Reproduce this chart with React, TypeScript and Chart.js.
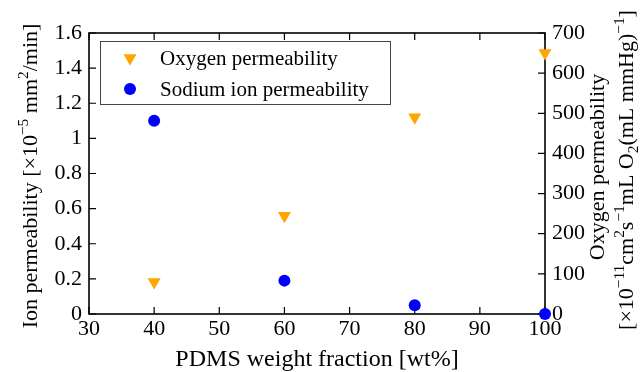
import React, { useEffect, useRef } from "react";
import { Chart, registerables } from "chart.js";

Chart.register(...registerables);

// ---- data ----
const wtFraction = [40, 60, 80, 100];
const oxygenPermeability = [80, 245, 490, 650];
const sodiumPermeability = [1.1, 0.19, 0.05, 0];

const xTicks = [30, 40, 50, 60, 70, 80, 90, 100];
const ionTicks = [0, 0.2, 0.4, 0.6, 0.8, 1, 1.2, 1.4, 1.6];
const oxyTicks = [0, 100, 200, 300, 400, 500, 600, 700];

const seriesLabels = ["Oxygen permeability", "Sodium ion permeability"];
const xTitle = "PDMS weight fraction [wt%]";
const leftTitle: [string, string][] = [
  ["Ion permeability [×10", ""],
  ["−5", "sup"],
  [" mm", ""],
  ["2", "sup"],
  ["/min]", ""],
];
const rightTitle1 = "Oxygen permeability";
const rightTitle2: [string, string][] = [
  ["[×10", ""],
  ["−11", "sup"],
  ["cm", ""],
  ["2", "sup"],
  ["s", ""],
  ["−1", "sup"],
  ["mL O", ""],
  ["2", "sub"],
  ["(mL mmHg)", ""],
  ["−1", "sup"],
  ["]", ""],
];

const FONT = '"Liberation Serif", "Times New Roman", serif';
const ORANGE = "#FFA500";
const BLUE = "#0000FF";

function drawRich(ctx: CanvasRenderingContext2D, segs: [string, string][], cx: number, cy: number, size: number, rot: number) {
  ctx.save();
  ctx.translate(cx, cy);
  ctx.rotate(rot);
  const small = size * 0.7;
  let total = 0;
  const widths = segs.map(([t, k]) => {
    ctx.font = `${k ? small : size}px ${FONT}`;
    const w = ctx.measureText(t).width;
    total += w;
    return w;
  });
  let x = -total / 2;
  ctx.textBaseline = "alphabetic";
  ctx.textAlign = "left";
  ctx.fillStyle = "#000";
  segs.forEach(([t, k], i) => {
    ctx.font = `${k ? small : size}px ${FONT}`;
    const dy = k === "sup" ? -size * 0.4 : k === "sub" ? size * 0.22 : 0;
    ctx.fillText(t, x, size * 0.33 + dy);
    x += widths[i];
  });
  ctx.restore();
}

function drawMarker(ctx: CanvasRenderingContext2D, style: string, x: number, y: number, r: number, color: string) {
  ctx.save();
  ctx.fillStyle = color;
  ctx.beginPath();
  if (style === "triangle") {
    // downward triangle (rotation 180)
    let rad = Math.PI;
    ctx.moveTo(x + Math.sin(rad) * r, y - Math.cos(rad) * r);
    rad += (2 * Math.PI) / 3;
    ctx.lineTo(x + Math.sin(rad) * r, y - Math.cos(rad) * r);
    rad += (2 * Math.PI) / 3;
    ctx.lineTo(x + Math.sin(rad) * r, y - Math.cos(rad) * r);
    ctx.closePath();
  } else {
    ctx.arc(x, y, r, 0, Math.PI * 2);
  }
  ctx.fill();
  ctx.restore();
}

const framePlugin = {
  id: "frameTicks",
  beforeDatasetsDraw(chart: any) {
    const { ctx, chartArea: a, scales } = chart;
    const L = 7;
    ctx.save();
    ctx.strokeStyle = "#000";
    ctx.lineWidth = 1.2;
    ctx.beginPath();
    xTicks.forEach((v) => {
      const px = scales.x.getPixelForValue(v);
      ctx.moveTo(px, a.bottom);
      ctx.lineTo(px, a.bottom - L);
      ctx.moveTo(px, a.top);
      ctx.lineTo(px, a.top + L);
    });
    ionTicks.forEach((v) => {
      const py = scales.y.getPixelForValue(v);
      ctx.moveTo(a.left, py);
      ctx.lineTo(a.left + L, py);
    });
    oxyTicks.forEach((v) => {
      const py = scales.y2.getPixelForValue(v);
      ctx.moveTo(a.right, py);
      ctx.lineTo(a.right - L, py);
    });
    ctx.stroke();
    ctx.lineWidth = 1.6;
    ctx.strokeRect(a.left, a.top, a.right - a.left, a.bottom - a.top);
    ctx.restore();
  },
  afterDatasetsDraw(chart: any) {
    const { ctx, chartArea: a } = chart;
    // axis titles
    ctx.save();
    ctx.font = `24px ${FONT}`;
    ctx.fillStyle = "#000";
    ctx.textAlign = "center";
    ctx.textBaseline = "alphabetic";
    ctx.fillText(xTitle, (a.left + a.right) / 2, 366);
    ctx.restore();
    drawRich(ctx, leftTitle, 30, 176, 22, -Math.PI / 2);
    drawRich(ctx, [[rightTitle1, ""]], 597, 167, 22, -Math.PI / 2);
    drawRich(ctx, rightTitle2, 626, 170, 22, -Math.PI / 2);

    // legend
    ctx.save();
    ctx.fillStyle = "#fff";
    ctx.fillRect(100, 41, 290, 63);
    ctx.strokeStyle = "#444";
    ctx.lineWidth = 1;
    ctx.strokeRect(100.5, 41.5, 290, 63);
    ctx.font = `21px ${FONT}`;
    ctx.fillStyle = "#000";
    ctx.textAlign = "left";
    ctx.textBaseline = "alphabetic";
    chart.data.datasets.forEach((ds: any, i: number) => {
      const y = 58 + i * 31;
      drawMarker(ctx, ds.pointStyle, 130, y, ds.pointRadius, ds.backgroundColor);
      ctx.fillStyle = "#000";
      ctx.fillText(ds.label, 160, y + 6.5);
    });
    ctx.restore();
  },
};

export default function App() {
  const ref = useRef<HTMLCanvasElement>(null);
  useEffect(() => {
    if (!ref.current) return;
    const tickFont = { family: FONT, size: 22 };
    const chart = new Chart(ref.current, {
      type: "scatter",
      data: {
        datasets: [
          {
            label: seriesLabels[0],
            data: wtFraction.map((x, i) => ({ x, y: oxygenPermeability[i] })),
            yAxisID: "y2",
            backgroundColor: ORANGE,
            borderWidth: 0,
            pointStyle: "triangle",
            rotation: 180,
            pointRadius: 7.5,
            clip: false,
          } as any,
          {
            label: seriesLabels[1],
            data: wtFraction.map((x, i) => ({ x, y: sodiumPermeability[i] })),
            yAxisID: "y",
            backgroundColor: BLUE,
            borderWidth: 0,
            pointStyle: "circle",
            pointRadius: 6,
            clip: false,
          } as any,
        ],
      },
      options: {
        responsive: false,
        animation: false,
        devicePixelRatio: 1,
        layout: { padding: { top: 33, left: 0, right: 0, bottom: 0 } },
        plugins: { legend: { display: false }, tooltip: { enabled: false } },
        scales: {
          x: {
            type: "linear",
            min: 30,
            max: 100,
            grid: { display: false, drawTicks: false },
            border: { display: false },
            afterBuildTicks: (s: any) => { s.ticks = xTicks.map((v) => ({ value: v })); },
            afterFit: (s: any) => { s.height = 58; },
            ticks: { font: tickFont, color: "#000", padding: 2, maxRotation: 0, autoSkip: false, callback: (v: any) => String(v) },
          },
          y: {
            type: "linear",
            position: "left",
            min: 0,
            max: 1.6,
            grid: { display: false, drawTicks: false },
            border: { display: false },
            afterBuildTicks: (s: any) => { s.ticks = ionTicks.map((v) => ({ value: v })); },
            afterFit: (s: any) => { s.width = 89; },
            ticks: { font: tickFont, color: "#000", padding: 7, autoSkip: false, callback: (v: any) => String(v) },
          },
          y2: {
            type: "linear",
            position: "right",
            min: 0,
            max: 700,
            grid: { display: false, drawTicks: false },
            border: { display: false },
            afterBuildTicks: (s: any) => { s.ticks = oxyTicks.map((v) => ({ value: v })); },
            afterFit: (s: any) => { s.width = 96; },
            ticks: { font: tickFont, color: "#000", padding: 7, autoSkip: false, callback: (v: any) => String(v) },
          },
        },
      } as any,
      plugins: [framePlugin],
    });
    return () => chart.destroy();
  }, []);
  return (
    <div style={{ position: "fixed", left: 0, top: 0, width: 641, height: 372, background: "#fff" }}>
      <canvas ref={ref} width={641} height={372} />
    </div>
  );
}
